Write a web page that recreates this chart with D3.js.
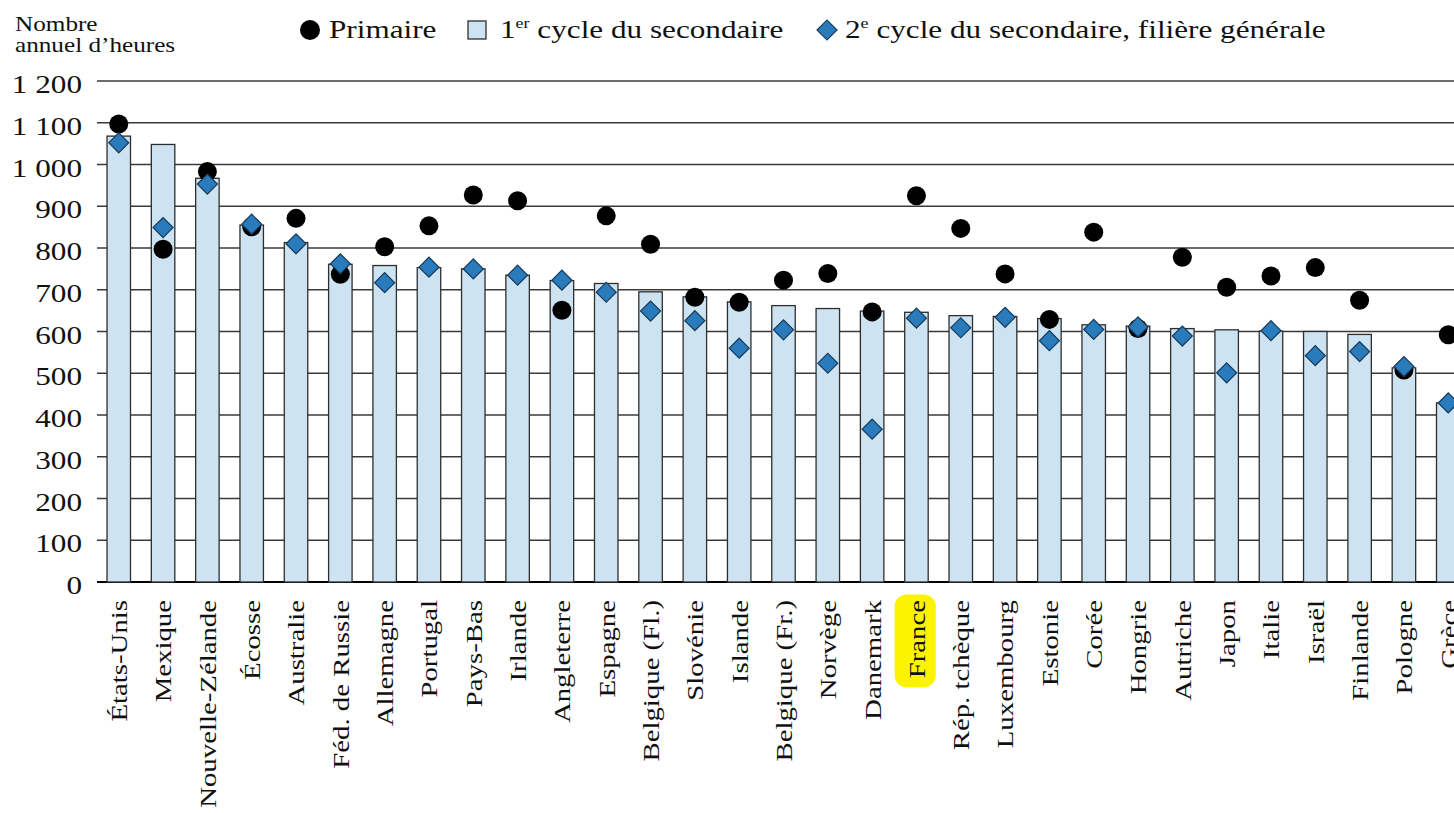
<!DOCTYPE html>
<html>
<head>
<meta charset="utf-8">
<script src="https://cdn.jsdelivr.net/npm/d3@7"></script>
<style>
    body { margin: 0; background: #fff; }
    svg { display: block; }
    text { font-family: "Liberation Serif", "Times New Roman", serif; fill: #111; }
</style>
</head>
<body>
<svg id="chart" width="1454" height="813"></svg>
<script>
const countries = ['États-Unis', 'Mexique', 'Nouvelle-Zélande', 'Écosse', 'Australie', 'Féd. de Russie',
    'Allemagne', 'Portugal', 'Pays-Bas', 'Irlande', 'Angleterre', 'Espagne', 'Belgique (Fl.)', 'Slovénie',
    'Islande', 'Belgique (Fr.)', 'Norvège', 'Danemark', 'France', 'Rép. tchèque', 'Luxembourg', 'Estonie',
    'Corée', 'Hongrie', 'Autriche', 'Japon', 'Italie', 'Israël', 'Finlande', 'Pologne', 'Grèce']

// 1er cycle du secondaire (bars)
const premierCycle = [1068, 1048, 967, 855, 813, 761, 758, 753, 750, 735, 722, 715, 695, 683,
    671, 662, 655, 649, 646, 638, 636, 631, 616, 613, 607, 604, 601, 600, 593, 513, 429]

// Primaire (circles)
const primaire = [1097, 797, 983, 851, 871, 737, 803, 853, 927, 913, 651, 877, 809, 682,
    670, 723, 739, 647, 925, 847, 738, 629, 838, 607, 778, 706, 733, 753, 675, 508, 592]

// 2e cycle du secondaire, filière générale (diamonds)
const secondCycle = [1052, 849, 953, 857, 810, 762, 717, 754, 750, 735, 723, 694, 649, 626,
    560, 604, 524, 366, 632, 609, 634, 578, 605, 611, 589, 501, 602, 542, 552, 516, 429]

const yTicks = [0, 100, 200, 300, 400, 500, 600, 700, 800, 900, 1000, 1100, 1200]
const yTickLabels = ['0', '100', '200', '300', '400', '500', '600', '700', '800', '900', '1 000', '1 100', '1 200']

const highlighted = 'France'

const colors = {
    bar: '#cde3f1',
    barStroke: '#2e2e2e',
    grid: '#3a3a3a',
    diamond: '#2a7bbb',
    diamondStroke: '#173a5a',
    highlight: '#fbf300'
}

const width = 1454
const stretch = 1.2   // the original serif is wider than Liberation Serif

const svg = d3.select('#chart')

const x = d3.scaleBand()
    .domain(countries)
    .range([97, 1470])
    .paddingInner(0.47)
    .paddingOuter(0.226)

const y = d3.scaleLinear()
    .domain([0, 1200])
    .range([582, 81])

const cx = c => x(c) + x.bandwidth() / 2

//Grid
svg.append('g')
    .selectAll('line')
    .data(yTicks)
    .enter()
    .append('line')
    .attr('x1', x.range()[0])
    .attr('x2', width)
    .attr('y1', d => y(d))
    .attr('y2', d => y(d))
    .attr('stroke', d => d === 0 ? '#000' : colors.grid)
    .attr('stroke-width', d => d === 0 ? 1.8 : 1.4)

//Y tick labels
svg.append('g')
    .selectAll('text')
    .data(yTicks)
    .enter()
    .append('text')
    .attr('transform', d => `translate(82,${y(d)}) scale(${stretch},1)`)
    .attr('text-anchor', 'end')
    .attr('dy', '0.47em')
    .attr('font-size', 26)
    .text((d, i) => yTickLabels[i])

//Bars
svg.append('g')
    .selectAll('rect')
    .data(countries)
    .enter()
    .append('rect')
    .attr('x', d => x(d))
    .attr('y', (d, i) => y(premierCycle[i]))
    .attr('width', x.bandwidth())
    .attr('height', (d, i) => y(0) - y(premierCycle[i]))
    .attr('fill', colors.bar)
    .attr('stroke', colors.barStroke)
    .attr('stroke-width', 1.3)

//Circles
svg.append('g')
    .selectAll('circle')
    .data(countries)
    .enter()
    .append('circle')
    .attr('cx', d => cx(d))
    .attr('cy', (d, i) => y(primaire[i]))
    .attr('r', 9.5)
    .attr('fill', '#000')

//Diamonds
const diamond = d3.symbol(d3.symbolSquare, 200)

svg.append('g')
    .selectAll('path')
    .data(countries)
    .enter()
    .append('path')
    .attr('d', diamond)
    .attr('transform', (d, i) => `translate(${cx(d)},${y(secondCycle[i])}) rotate(45)`)
    .attr('fill', colors.diamond)
    .attr('stroke', colors.diamondStroke)
    .attr('stroke-width', 1.2)

//X labels
const labels = svg.append('g')
    .selectAll('g')
    .data(countries)
    .enter()
    .append('g')
    .attr('transform', d => `translate(${cx(d)},600) rotate(-90) scale(${stretch},1)`)

labels.append('text')
    .attr('text-anchor', 'end')
    .attr('dy', '0.35em')
    .attr('font-size', 24)
    .text(d => d)

labels.filter(d => d === highlighted).each(function () {
    const g = d3.select(this)
    const box = g.select('text').node().getBBox()
    g.insert('rect', 'text')
        .attr('x', box.x - 7.5)
        .attr('y', box.y - 8.5)
        .attr('width', box.width + 12)
        .attr('height', box.height + 14)
        .attr('rx', 10)
        .attr('ry', 12)
        .attr('fill', colors.highlight)
})

//Axis title
const title = svg.append('g')
title.append('text')
    .attr('transform', `translate(15,31) scale(${stretch},1)`)
    .attr('font-size', 21)
    .text('Nombre')
title.append('text')
    .attr('transform', `translate(15,52) scale(${stretch},1)`)
    .attr('font-size', 21)
    .text('annuel d’heures')

//Legend
const legend = svg.append('g')

legend.append('circle')
    .attr('cx', 310)
    .attr('cy', 30)
    .attr('r', 10)
    .attr('fill', '#000')

legend.append('text')
    .attr('transform', `translate(329,38) scale(${stretch},1)`)
    .attr('font-size', 26)
    .text('Primaire')

legend.append('rect')
    .attr('x', 468)
    .attr('y', 21)
    .attr('width', 18)
    .attr('height', 18)
    .attr('fill', colors.bar)
    .attr('stroke', colors.barStroke)
    .attr('stroke-width', 1.3)

const legendText = (xPos, num, sup, rest) => {
    const t = legend.append('text')
        .attr('transform', `translate(${xPos},38) scale(${stretch},1)`)
        .attr('font-size', 26)
    t.append('tspan').text(num)
    t.append('tspan').attr('font-size', 15).attr('dy', -10).text(sup)
    t.append('tspan').attr('dy', 10).text(rest)
}

legendText(500, '1', 'er', ' cycle du secondaire')

legend.append('path')
    .attr('d', diamond)
    .attr('transform', 'translate(827,30) rotate(45)')
    .attr('fill', colors.diamond)
    .attr('stroke', colors.diamondStroke)
    .attr('stroke-width', 1.2)

legendText(845, '2', 'e', ' cycle du secondaire, filière générale')
</script>
</body>
</html>
